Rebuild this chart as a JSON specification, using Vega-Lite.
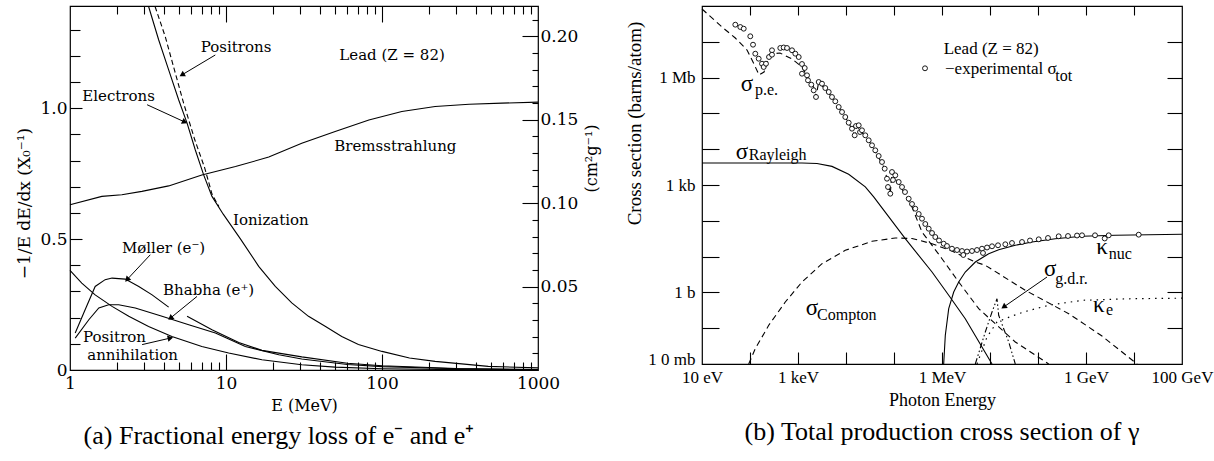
{
  "$schema": "https://vega.github.io/schema/vega-lite/v6.json",
  "padding": {"left": 15, "top": 3, "right": 5, "bottom": 5},
  "background": "white",
  "config": {
    "view": {"stroke": "black", "strokeWidth": 1.2},
    "axis": {"grid": false, "domain": false, "tickColor": "black", "tickWidth": 1.1, "labelColor": "black", "titleColor": "black", "titleFontWeight": "normal", "labelFlush": false, "labelOverlap": false},
    "font": "Liberation Serif"
  },
  "datasets": {
    "left_curves": [
      {"curve": "Bremsstrahlung", "seg": "b", "E": 1, "v": 0.631},
      {"curve": "Bremsstrahlung", "seg": "b", "E": 1.6, "v": 0.663},
      {"curve": "Bremsstrahlung", "seg": "b", "E": 2.15, "v": 0.669},
      {"curve": "Bremsstrahlung", "seg": "b", "E": 2.89, "v": 0.682},
      {"curve": "Bremsstrahlung", "seg": "b", "E": 4.29, "v": 0.703},
      {"curve": "Bremsstrahlung", "seg": "b", "E": 7.0, "v": 0.745},
      {"curve": "Bremsstrahlung", "seg": "b", "E": 11.5, "v": 0.777},
      {"curve": "Bremsstrahlung", "seg": "b", "E": 18.8, "v": 0.813},
      {"curve": "Bremsstrahlung", "seg": "b", "E": 30.6, "v": 0.866},
      {"curve": "Bremsstrahlung", "seg": "b", "E": 50.1, "v": 0.911},
      {"curve": "Bremsstrahlung", "seg": "b", "E": 82.4, "v": 0.955},
      {"curve": "Bremsstrahlung", "seg": "b", "E": 134, "v": 0.987},
      {"curve": "Bremsstrahlung", "seg": "b", "E": 219, "v": 1.006},
      {"curve": "Bremsstrahlung", "seg": "b", "E": 362, "v": 1.015},
      {"curve": "Bremsstrahlung", "seg": "b", "E": 588, "v": 1.019},
      {"curve": "Bremsstrahlung", "seg": "b", "E": 1000, "v": 1.023},
      {"curve": "Electrons", "seg": "el", "E": 3.19, "v": 1.388},
      {"curve": "Electrons", "seg": "el", "E": 3.7, "v": 1.261},
      {"curve": "Electrons", "seg": "el", "E": 4.29, "v": 1.146},
      {"curve": "Electrons", "seg": "el", "E": 4.97, "v": 1.032},
      {"curve": "Electrons", "seg": "el", "E": 5.63, "v": 0.943},
      {"curve": "Electrons", "seg": "el", "E": 6.35, "v": 0.841},
      {"curve": "Electrons", "seg": "el", "E": 7.19, "v": 0.745},
      {"curve": "Electrons", "seg": "el", "E": 8.13, "v": 0.663},
      {"curve": "Electrons", "seg": "el", "E": 9.6, "v": 0.595},
      {"curve": "Electrons", "seg": "el", "E": 12.4, "v": 0.5},
      {"curve": "Electrons", "seg": "el", "E": 16.2, "v": 0.396},
      {"curve": "Electrons", "seg": "el", "E": 20.7, "v": 0.319},
      {"curve": "Electrons", "seg": "el", "E": 26.4, "v": 0.256},
      {"curve": "Electrons", "seg": "el", "E": 33.8, "v": 0.205},
      {"curve": "Electrons", "seg": "el", "E": 43.2, "v": 0.167},
      {"curve": "Electrons", "seg": "el", "E": 55.2, "v": 0.128},
      {"curve": "Electrons", "seg": "el", "E": 70.6, "v": 0.097},
      {"curve": "Electrons", "seg": "el", "E": 100, "v": 0.071},
      {"curve": "Electrons", "seg": "el", "E": 150, "v": 0.046},
      {"curve": "Electrons", "seg": "el", "E": 219, "v": 0.033},
      {"curve": "Electrons", "seg": "el", "E": 480, "v": 0.014},
      {"curve": "Electrons", "seg": "el", "E": 1000, "v": 0.008},
      {"curve": "Positrons", "seg": "po", "E": 3.51, "v": 1.388},
      {"curve": "Positrons", "seg": "po", "E": 4.08, "v": 1.273},
      {"curve": "Positrons", "seg": "po", "E": 4.7, "v": 1.14},
      {"curve": "Positrons", "seg": "po", "E": 5.35, "v": 1.019},
      {"curve": "Positrons", "seg": "po", "E": 6.3, "v": 0.88},
      {"curve": "Positrons", "seg": "po", "E": 7.3, "v": 0.772},
      {"curve": "Positrons", "seg": "po", "E": 8.13, "v": 0.672},
      {"curve": "Positrons", "seg": "po", "E": 9.0, "v": 0.624},
      {"curve": "Møller", "seg": "m1", "E": 1.08, "v": 0.141},
      {"curve": "Møller", "seg": "m1", "E": 1.25, "v": 0.23},
      {"curve": "Møller", "seg": "m1", "E": 1.45, "v": 0.319},
      {"curve": "Møller", "seg": "m1", "E": 1.68, "v": 0.345},
      {"curve": "Møller", "seg": "m1", "E": 1.86, "v": 0.351},
      {"curve": "Møller", "seg": "m1", "E": 2.26, "v": 0.347},
      {"curve": "Møller", "seg": "m1", "E": 2.76, "v": 0.319},
      {"curve": "Møller", "seg": "m1", "E": 3.36, "v": 0.287},
      {"curve": "Møller", "seg": "m1", "E": 4.29, "v": 0.24},
      {"curve": "Møller", "seg": "m2", "E": 5.63, "v": 0.205},
      {"curve": "Møller", "seg": "m2", "E": 8.13, "v": 0.154},
      {"curve": "Møller", "seg": "m2", "E": 12.07, "v": 0.105},
      {"curve": "Møller", "seg": "m2", "E": 17, "v": 0.075},
      {"curve": "Møller", "seg": "m2", "E": 30.6, "v": 0.05},
      {"curve": "Møller", "seg": "m2", "E": 60, "v": 0.026},
      {"curve": "Møller", "seg": "m2", "E": 100, "v": 0.016},
      {"curve": "Møller", "seg": "m2", "E": 300, "v": 0.0055},
      {"curve": "Møller", "seg": "m2", "E": 1000, "v": 0.0017},
      {"curve": "Bhabha", "seg": "bh", "E": 1.08, "v": 0.122},
      {"curve": "Bhabha", "seg": "bh", "E": 1.32, "v": 0.192},
      {"curve": "Bhabha", "seg": "bh", "E": 1.53, "v": 0.237},
      {"curve": "Bhabha", "seg": "bh", "E": 1.77, "v": 0.249},
      {"curve": "Bhabha", "seg": "bh", "E": 2.05, "v": 0.249},
      {"curve": "Bhabha", "seg": "bh", "E": 2.62, "v": 0.237},
      {"curve": "Bhabha", "seg": "bh", "E": 3.89, "v": 0.205},
      {"curve": "Bhabha", "seg": "bh", "E": 5.77, "v": 0.173},
      {"curve": "Bhabha", "seg": "bh", "E": 8.55, "v": 0.141},
      {"curve": "Bhabha", "seg": "bh", "E": 13.3, "v": 0.09},
      {"curve": "Bhabha", "seg": "bh", "E": 21.8, "v": 0.058},
      {"curve": "Bhabha", "seg": "bh", "E": 30.6, "v": 0.042},
      {"curve": "Bhabha", "seg": "bh", "E": 60, "v": 0.021},
      {"curve": "Bhabha", "seg": "bh", "E": 100, "v": 0.013},
      {"curve": "Bhabha", "seg": "bh", "E": 300, "v": 0.0045},
      {"curve": "Bhabha", "seg": "bh", "E": 1000, "v": 0.0013},
      {"curve": "Positron annihilation", "seg": "an", "E": 1, "v": 0.38},
      {"curve": "Positron annihilation", "seg": "an", "E": 1.19, "v": 0.332},
      {"curve": "Positron annihilation", "seg": "an", "E": 1.45, "v": 0.287},
      {"curve": "Positron annihilation", "seg": "an", "E": 1.86, "v": 0.243},
      {"curve": "Positron annihilation", "seg": "an", "E": 2.38, "v": 0.205},
      {"curve": "Positron annihilation", "seg": "an", "E": 3.19, "v": 0.166},
      {"curve": "Positron annihilation", "seg": "an", "E": 4.5, "v": 0.128},
      {"curve": "Positron annihilation", "seg": "an", "E": 7, "v": 0.09},
      {"curve": "Positron annihilation", "seg": "an", "E": 10.4, "v": 0.065},
      {"curve": "Positron annihilation", "seg": "an", "E": 17, "v": 0.039},
      {"curve": "Positron annihilation", "seg": "an", "E": 30.6, "v": 0.02},
      {"curve": "Positron annihilation", "seg": "an", "E": 50, "v": 0.011},
      {"curve": "Positron annihilation", "seg": "an", "E": 100, "v": 0.005},
      {"curve": "Positron annihilation", "seg": "an", "E": 300, "v": 0.0015},
      {"curve": "Positron annihilation", "seg": "an", "E": 1000, "v": 0.0005}
    ],
    "left_text": [
      {"E": 11.6, "v": 1.233, "t": "Positrons"},
      {"E": 2.05, "v": 1.045, "t": "Electrons"},
      {"E": 116, "v": 1.203, "t": "Lead  (Z = 82)"},
      {"E": 121.7, "v": 0.854, "t": "Bremsstrahlung"},
      {"E": 19.4, "v": 0.571, "t": "Ionization"},
      {"E": 3.98, "v": 0.466, "t": "Møller (e⁻)"},
      {"E": 7.74, "v": 0.307, "t": "Bhabha (e⁺)"},
      {"E": 1.93, "v": 0.126, "t": "Positron"},
      {"E": 2.52, "v": 0.058, "t": "annihilation"}
    ],
    "left_arrows": [
      {"E": 8.54, "v": 1.203, "E2": 5.22, "v2": 1.127, "ang": 239},
      {"E": 3.12, "v": 1.013, "E2": 5.44, "v2": 0.947, "ang": 115},
      {"E": 3.27, "v": 0.44, "E2": 2.32, "v2": 0.345, "ang": 223},
      {"E": 6.52, "v": 0.281, "E2": 4.4, "v2": 0.198, "ang": 231},
      {"E": 2.9, "v": 0.097, "E2": 4.4, "v2": 0.122, "ang": 77}
    ],
    "anchor_left": [{"E": 10, "v": 0.1}],
    "right_curves": [
      {"curve": "Rayleigh", "logE": 1, "logS": 3.615},
      {"curve": "Rayleigh", "logE": 3.083, "logS": 3.615},
      {"curve": "Rayleigh", "logE": 3.396, "logS": 3.601},
      {"curve": "Rayleigh", "logE": 3.708, "logS": 3.52},
      {"curve": "Rayleigh", "logE": 4.056, "logS": 3.3},
      {"curve": "Rayleigh", "logE": 4.402, "logS": 2.95},
      {"curve": "Rayleigh", "logE": 4.577, "logS": 2.67},
      {"curve": "Rayleigh", "logE": 4.75, "logS": 2.36},
      {"curve": "Rayleigh", "logE": 5.235, "logS": 1.5},
      {"curve": "Rayleigh", "logE": 5.792, "logS": 0.57},
      {"curve": "Rayleigh", "logE": 6.14, "logS": -0.081},
      {"curve": "Rayleigh", "logE": 6.485, "logS": -0.735},
      {"curve": "Rayleigh", "logE": 7.042, "logS": -2},
      {"curve": "κ_nuc", "logE": 6.035, "logS": -2},
      {"curve": "κ_nuc", "logE": 6.069, "logS": -1.198},
      {"curve": "κ_nuc", "logE": 6.14, "logS": -0.455},
      {"curve": "κ_nuc", "logE": 6.244, "logS": 0.011},
      {"curve": "κ_nuc", "logE": 6.348, "logS": 0.291},
      {"curve": "κ_nuc", "logE": 6.485, "logS": 0.57},
      {"curve": "κ_nuc", "logE": 6.694, "logS": 0.849},
      {"curve": "κ_nuc", "logE": 6.973, "logS": 1.081},
      {"curve": "κ_nuc", "logE": 7.181, "logS": 1.193},
      {"curve": "κ_nuc", "logE": 7.527, "logS": 1.316},
      {"curve": "κ_nuc", "logE": 7.875, "logS": 1.408},
      {"curve": "κ_nuc", "logE": 8.36, "logS": 1.5},
      {"curve": "κ_nuc", "logE": 8.917, "logS": 1.567},
      {"curve": "κ_nuc", "logE": 9.61, "logS": 1.595},
      {"curve": "κ_nuc", "logE": 11, "logS": 1.623},
      {"curve": "p.e.", "logE": 1, "logS": 7.916},
      {"curve": "p.e.", "logE": 1.417, "logS": 7.413},
      {"curve": "p.e.", "logE": 1.694, "logS": 7.106},
      {"curve": "p.e.", "logE": 1.938, "logS": 6.771},
      {"curve": "p.e.", "logE": 2.083, "logS": 6.38},
      {"curve": "p.e.", "logE": 2.188, "logS": 6.073},
      {"curve": "p.e.", "logE": 2.292, "logS": 6.156},
      {"curve": "p.e.", "logE": 2.417, "logS": 6.659},
      {"curve": "p.e.", "logE": 2.625, "logS": 6.687},
      {"curve": "p.e.", "logE": 2.875, "logS": 6.52},
      {"curve": "p.e.", "logE": 3.083, "logS": 6.296},
      {"curve": "p.e.", "logE": 3.333, "logS": 5.709},
      {"curve": "p.e.", "logE": 3.375, "logS": 5.458},
      {"curve": "p.e.", "logE": 3.431, "logS": 5.877},
      {"curve": "p.e.", "logE": 3.708, "logS": 5.458},
      {"curve": "p.e.", "logE": 4.056, "logS": 4.74},
      {"curve": "p.e.", "logE": 4.181, "logS": 4.388},
      {"curve": "p.e.", "logE": 4.229, "logS": 4.648},
      {"curve": "p.e.", "logE": 4.542, "logS": 4.109},
      {"curve": "p.e.", "logE": 4.806, "logS": 3.455},
      {"curve": "p.e.", "logE": 4.923, "logS": 2.757},
      {"curve": "p.e.", "logE": 4.958, "logS": 3.363},
      {"curve": "p.e.", "logE": 5.167, "logS": 2.888},
      {"curve": "p.e.", "logE": 5.375, "logS": 2.385},
      {"curve": "p.e.", "logE": 5.583, "logS": 1.687},
      {"curve": "p.e.", "logE": 6.0, "logS": 0.941},
      {"curve": "p.e.", "logE": 6.348, "logS": 0.291},
      {"curve": "p.e.", "logE": 6.765, "logS": -0.455},
      {"curve": "p.e.", "logE": 7.527, "logS": -1.385},
      {"curve": "p.e.", "logE": 8.223, "logS": -2},
      {"curve": "Compton", "logE": 1.973, "logS": -2},
      {"curve": "Compton", "logE": 2.11, "logS": -1.573},
      {"curve": "Compton", "logE": 2.39, "logS": -0.919},
      {"curve": "Compton", "logE": 2.735, "logS": -0.268},
      {"curve": "Compton", "logE": 3.083, "logS": 0.291},
      {"curve": "Compton", "logE": 3.5, "logS": 0.802},
      {"curve": "Compton", "logE": 3.985, "logS": 1.176},
      {"curve": "Compton", "logE": 4.542, "logS": 1.427},
      {"curve": "Compton", "logE": 5.027, "logS": 1.52},
      {"curve": "Compton", "logE": 5.375, "logS": 1.506},
      {"curve": "Compton", "logE": 5.792, "logS": 1.36},
      {"curve": "Compton", "logE": 6.208, "logS": 1.156},
      {"curve": "Compton", "logE": 6.694, "logS": 0.849},
      {"curve": "Compton", "logE": 6.902, "logS": 0.757},
      {"curve": "Compton", "logE": 7.735, "logS": 0.059},
      {"curve": "Compton", "logE": 8.64, "logS": -0.595},
      {"curve": "Compton", "logE": 9.333, "logS": -1.218},
      {"curve": "Compton", "logE": 10.063, "logS": -2},
      {"curve": "κ_e", "logE": 6.729, "logS": -2},
      {"curve": "κ_e", "logE": 6.938, "logS": -1.246},
      {"curve": "κ_e", "logE": 7.146, "logS": -0.827},
      {"curve": "κ_e", "logE": 7.458, "logS": -0.659},
      {"curve": "κ_e", "logE": 7.735, "logS": -0.534},
      {"curve": "κ_e", "logE": 8.223, "logS": -0.36},
      {"curve": "κ_e", "logE": 8.917, "logS": -0.221},
      {"curve": "κ_e", "logE": 9.958, "logS": -0.176},
      {"curve": "κ_e", "logE": 11, "logS": -0.162},
      {"curve": "g.d.r.", "logE": 6.694, "logS": -2},
      {"curve": "g.d.r.", "logE": 6.902, "logS": -1.106},
      {"curve": "g.d.r.", "logE": 7.042, "logS": -0.547},
      {"curve": "g.d.r.", "logE": 7.146, "logS": -0.176},
      {"curve": "g.d.r.", "logE": 7.181, "logS": -0.64},
      {"curve": "g.d.r.", "logE": 7.285, "logS": -1.014},
      {"curve": "g.d.r.", "logE": 7.39, "logS": -1.385},
      {"curve": "g.d.r.", "logE": 7.527, "logS": -2}
    ],
    "right_points": [
      {"logE": 1.694, "logS": 7.478}, {"logE": 1.798, "logS": 7.413}, {"logE": 1.869, "logS": 7.366},
      {"logE": 2.006, "logS": 7.154}, {"logE": 2.063, "logS": 6.919}, {"logE": 2.11, "logS": 6.668},
      {"logE": 2.181, "logS": 6.528}, {"logE": 2.25, "logS": 6.388}, {"logE": 2.285, "logS": 6.296},
      {"logE": 2.333, "logS": 6.388}, {"logE": 2.396, "logS": 6.575}, {"logE": 2.458, "logS": 6.763},
      {"logE": 2.458, "logS": 6.64}, {"logE": 2.631, "logS": 6.827}, {"logE": 2.702, "logS": 6.841},
      {"logE": 2.771, "logS": 6.827}, {"logE": 2.875, "logS": 6.763}, {"logE": 2.944, "logS": 6.668},
      {"logE": 3.015, "logS": 6.575}, {"logE": 3.083, "logS": 6.38}, {"logE": 3.14, "logS": 6.268},
      {"logE": 3.083, "logS": 6.109}, {"logE": 3.188, "logS": 6.064}, {"logE": 3.208, "logS": 5.925},
      {"logE": 3.277, "logS": 5.802}, {"logE": 3.327, "logS": 5.645}, {"logE": 3.375, "logS": 5.458},
      {"logE": 3.431, "logS": 5.877}, {"logE": 3.5, "logS": 5.83}, {"logE": 3.569, "logS": 5.709},
      {"logE": 3.64, "logS": 5.598}, {"logE": 3.708, "logS": 5.458}, {"logE": 3.777, "logS": 5.338},
      {"logE": 3.848, "logS": 5.179}, {"logE": 3.917, "logS": 5.039}, {"logE": 3.985, "logS": 4.899},
      {"logE": 4.056, "logS": 4.74}, {"logE": 4.125, "logS": 4.573}, {"logE": 4.181, "logS": 4.388},
      {"logE": 4.208, "logS": 4.648}, {"logE": 4.265, "logS": 4.668}, {"logE": 4.292, "logS": 4.48},
      {"logE": 4.333, "logS": 4.528}, {"logE": 4.402, "logS": 4.388}, {"logE": 4.473, "logS": 4.249},
      {"logE": 4.542, "logS": 4.109}, {"logE": 4.61, "logS": 3.969}, {"logE": 4.681, "logS": 3.81},
      {"logE": 4.75, "logS": 3.642}, {"logE": 4.806, "logS": 3.455}, {"logE": 4.854, "logS": 3.176},
      {"logE": 4.923, "logS": 2.757}, {"logE": 4.875, "logS": 2.944}, {"logE": 4.958, "logS": 3.363},
      {"logE": 4.979, "logS": 3.14}, {"logE": 5.027, "logS": 3.271}, {"logE": 5.098, "logS": 3.084},
      {"logE": 5.167, "logS": 2.944}, {"logE": 5.229, "logS": 2.804}, {"logE": 5.306, "logS": 2.617},
      {"logE": 5.375, "logS": 2.469}, {"logE": 5.444, "logS": 2.338}, {"logE": 5.515, "logS": 2.19},
      {"logE": 5.583, "logS": 2.059}, {"logE": 5.652, "logS": 1.911}, {"logE": 5.723, "logS": 1.779},
      {"logE": 5.792, "logS": 1.659}, {"logE": 5.86, "logS": 1.547}, {"logE": 5.938, "logS": 1.45},
      {"logE": 6.035, "logS": 1.36}, {"logE": 6.104, "logS": 1.296}, {"logE": 6.208, "logS": 1.221},
      {"logE": 6.313, "logS": 1.184}, {"logE": 6.417, "logS": 1.156}, {"logE": 6.521, "logS": 1.142},
      {"logE": 6.625, "logS": 1.156}, {"logE": 6.729, "logS": 1.184}, {"logE": 6.833, "logS": 1.221},
      {"logE": 6.938, "logS": 1.254}, {"logE": 7.042, "logS": 1.288}, {"logE": 7.167, "logS": 1.316},
      {"logE": 7.319, "logS": 1.344}, {"logE": 7.458, "logS": 1.38}, {"logE": 7.667, "logS": 1.408},
      {"logE": 7.833, "logS": 1.45}, {"logE": 8.015, "logS": 1.483}, {"logE": 8.208, "logS": 1.52},
      {"logE": 8.431, "logS": 1.567}, {"logE": 8.625, "logS": 1.575}, {"logE": 8.813, "logS": 1.589},
      {"logE": 8.917, "logS": 1.595}, {"logE": 9.188, "logS": 1.595}, {"logE": 9.39, "logS": 1.506},
      {"logE": 9.473, "logS": 1.595}, {"logE": 10.098, "logS": 1.612}, {"logE": 6.444, "logS": 1.045},
      {"logE": 6.854, "logS": 1.101}
    ],
    "right_legend": [{"logE": 5.646, "logS": 6.26}],
    "right_symbols": [
      {"logE": 1.938, "logS": 5.83, "t": "σ"},
      {"logE": 1.833, "logS": 3.922, "t": "σ"},
      {"logE": 3.292, "logS": -0.436, "t": "σ"},
      {"logE": 9.333, "logS": 1.268, "t": "κ"},
      {"logE": 8.256, "logS": 0.662, "t": "σ"},
      {"logE": 9.265, "logS": -0.36, "t": "κ"}
    ],
    "right_subs": [
      {"logE": 2.104, "logS": 5.645, "t": "p.e."},
      {"logE": 1.973, "logS": 3.83, "t": "Rayleigh"},
      {"logE": 3.396, "logS": -0.64, "t": "Compton"},
      {"logE": 9.473, "logS": 1.081, "t": "nuc"},
      {"logE": 8.36, "logS": 0.383, "t": "g.d.r."},
      {"logE": 9.417, "logS": -0.5, "t": "e"},
      {"logE": 8.36, "logS": 6.05, "t": "tot"}
    ],
    "right_text": [
      {"logE": 6.035, "logS": 6.8, "t": "Lead (Z = 82)"},
      {"logE": 6.0625, "logS": 6.23, "t": "−experimental σ"}
    ],
    "right_arrows": [
      {"logE": 8.1875, "logS": 0.43, "logE2": 7.285, "logS2": -0.408, "ang": 235}
    ]
  },
  "hconcat": [
    {
      "width": 468,
      "height": 364,
      "title": {"text": "(a)  Fractional energy loss of e⁻ and e⁺", "orient": "bottom", "font": "Liberation Serif", "fontSize": 26, "fontWeight": "normal", "color": "black", "offset": 10, "dx": -25},
      "resolve": {"scale": {"y": "independent"}, "axis": {"x": "independent", "y": "independent"}},
      "layer": [
        {
          "data": {"name": "left_curves"},
          "transform": [{"filter": "datum.curve != 'Positrons'"}],
          "mark": {"type": "line", "color": "black", "strokeWidth": 1.1},
          "encoding": {
            "x": {"field": "E", "type": "quantitative", "scale": {"type": "log", "domain": [1, 1000]},
              "axis": {"orient": "bottom", "values": [1, 10, 100, 1000], "format": "d", "ticks": false, "tickSize": 0, "labelFont": "DejaVu Serif", "labelFontSize": 17, "labelPadding": 5, "title": "E  (MeV)", "titleFont": "DejaVu Serif", "titleFontSize": 16, "titlePadding": 6}},
            "y": {"field": "v", "type": "quantitative", "scale": {"domain": [0, 1.39]},
              "axis": {"orient": "left", "values": [0, 0.5, 1], "labelExpr": "datum.value == 0 ? '0' : format(datum.value, '.1f')", "ticks": false, "tickSize": 0, "labelFont": "DejaVu Serif", "labelFontSize": 17, "labelPadding": 3, "title": "−1/E dE/dx  (X₀⁻¹)", "titleFont": "DejaVu Serif", "titleFontSize": 17, "titlePadding": 6, "titleY": 197}},
            "detail": {"field": "seg"}
          }
        },
        {
          "data": {"name": "left_curves"},
          "transform": [{"filter": "datum.curve == 'Positrons'"}],
          "mark": {"type": "line", "color": "black", "strokeWidth": 1.1, "strokeDash": [5, 3]},
          "encoding": {
            "x": {"field": "E", "type": "quantitative", "scale": {"type": "log", "domain": [1, 1000]}, "axis": null},
            "y": {"field": "v", "type": "quantitative", "scale": {"domain": [0, 1.39]}, "axis": null},
            "detail": {"field": "seg"}
          }
        },
        {
          "data": {"name": "anchor_left"},
          "mark": {"type": "point", "opacity": 0},
          "encoding": {
            "x": {"field": "E", "type": "quantitative", "scale": {"type": "log", "domain": [1, 1000]},
              "axis": {"orient": "bottom", "values": [2, 3, 4, 5, 6, 7, 8, 9, 20, 30, 40, 50, 60, 70, 80, 90, 200, 300, 400, 500, 600, 700, 800, 900], "labels": false, "tickSize": -8, "title": null}},
            "y": {"field": "v", "type": "quantitative", "scale": {"domain": [0, 1.39]},
              "axis": {"orient": "left", "values": [0.1, 0.2, 0.3, 0.4, 0.6, 0.7, 0.8, 0.9, 1.1, 1.2, 1.3], "labels": false, "tickSize": -10, "title": null}}
          }
        },
        {
          "data": {"name": "anchor_left"},
          "mark": {"type": "point", "opacity": 0},
          "encoding": {
            "x": {"field": "E", "type": "quantitative", "scale": {"type": "log", "domain": [1, 1000]},
              "axis": {"orient": "bottom", "values": [10, 100], "labels": false, "tickSize": -16, "title": null}},
            "y": {"field": "v", "type": "quantitative", "scale": {"domain": [0, 1.39]},
              "axis": {"orient": "left", "values": [0.5, 1.0], "labels": false, "tickSize": -12, "title": null}}
          }
        },
        {
          "data": {"name": "anchor_left"},
          "mark": {"type": "point", "opacity": 0},
          "encoding": {
            "x": {"field": "E", "type": "quantitative", "scale": {"type": "log", "domain": [1, 1000]},
              "axis": {"orient": "top", "values": [2, 3, 4, 5, 6, 7, 8, 9, 20, 30, 40, 50, 60, 70, 80, 90, 200, 300, 400, 500, 600, 700, 800, 900], "labels": false, "tickSize": -8, "title": null}},
            "y": {"field": "v", "type": "quantitative", "scale": {"domain": [0, 0.2182]},
              "axis": {"orient": "right", "values": [0.05, 0.1, 0.15, 0.2], "format": ".2f", "ticks": false, "tickSize": 0, "labelFont": "DejaVu Serif", "labelFontSize": 17, "labelPadding": 2, "title": "(cm²g⁻¹)", "titleFont": "DejaVu Serif", "titleFontSize": 16, "titleAngle": 270, "titleBaseline": "top", "titlePadding": 6, "titleY": 152}}
          }
        },
        {
          "data": {"name": "anchor_left"},
          "mark": {"type": "point", "opacity": 0},
          "encoding": {
            "x": {"field": "E", "type": "quantitative", "scale": {"type": "log", "domain": [1, 1000]},
              "axis": {"orient": "top", "values": [10, 100], "labels": false, "tickSize": -16, "title": null}},
            "y": {"field": "v", "type": "quantitative", "scale": {"domain": [0, 0.2182]},
              "axis": {"orient": "right", "values": [0.01, 0.02, 0.03, 0.04, 0.06, 0.07, 0.08, 0.09, 0.11, 0.12, 0.13, 0.14, 0.16, 0.17, 0.18, 0.19, 0.21], "labels": false, "tickSize": -6, "title": null}}
          }
        },
        {
          "data": {"name": "anchor_left"},
          "mark": {"type": "point", "opacity": 0},
          "encoding": {
            "x": {"field": "E", "type": "quantitative", "scale": {"type": "log", "domain": [1, 1000]}, "axis": null},
            "y": {"field": "v", "type": "quantitative", "scale": {"domain": [0, 0.2182]},
              "axis": {"orient": "right", "values": [0.05, 0.1, 0.15, 0.2], "labels": false, "tickSize": -16, "title": null}}
          }
        },
        {
          "data": {"name": "left_text"},
          "mark": {"type": "text", "font": "DejaVu Serif", "fontSize": 15, "align": "center", "baseline": "middle", "color": "black"},
          "encoding": {
            "x": {"field": "E", "type": "quantitative", "scale": {"type": "log", "domain": [1, 1000]}, "axis": null},
            "y": {"field": "v", "type": "quantitative", "scale": {"domain": [0, 1.39]}, "axis": null},
            "text": {"field": "t"}
          }
        },
        {
          "data": {"name": "left_arrows"},
          "mark": {"type": "rule", "color": "black", "strokeWidth": 1},
          "encoding": {
            "x": {"field": "E", "type": "quantitative", "scale": {"type": "log", "domain": [1, 1000]}, "axis": null},
            "y": {"field": "v", "type": "quantitative", "scale": {"domain": [0, 1.39]}, "axis": null},
            "x2": {"field": "E2"},
            "y2": {"field": "v2"}
          }
        },
        {
          "data": {"name": "left_arrows"},
          "mark": {"type": "point", "shape": "triangle-up", "filled": true, "color": "black", "opacity": 1, "size": 40},
          "encoding": {
            "x": {"field": "E2", "type": "quantitative", "scale": {"type": "log", "domain": [1, 1000]}, "axis": null},
            "y": {"field": "v2", "type": "quantitative", "scale": {"domain": [0, 1.39]}, "axis": null},
            "angle": {"field": "ang", "type": "quantitative", "scale": null}
          }
        }
      ]
    },
    {
      "width": 480,
      "height": 358,
      "title": {"text": "(b)  Total production cross section of γ", "orient": "bottom", "font": "Liberation Serif", "fontSize": 26, "fontWeight": "normal", "color": "black", "offset": 10},
      "resolve": {"axis": {"x": "independent", "y": "independent"}},
      "layer": [
        {
          "data": {"name": "right_curves"},
          "transform": [{"filter": {"field": "curve", "oneOf": ["Rayleigh", "κ_nuc"]}}],
          "mark": {"type": "line", "color": "black", "strokeWidth": 1.1},
          "encoding": {
            "x": {"field": "logE", "type": "quantitative", "scale": {"domain": [1, 11]},
              "axis": {"orient": "bottom", "values": [1, 3, 6, 9, 11], "labelExpr": "datum.value == 1 ? '10 eV' : datum.value == 3 ? '1 keV' : datum.value == 6 ? '1 MeV' : datum.value == 9 ? '1 GeV' : '100 GeV'", "ticks": false, "tickSize": 0, "labelFont": "Liberation Serif", "labelFontSize": 17, "labelPadding": 5, "title": "Photon Energy", "titleFont": "Liberation Serif", "titleFontSize": 18, "titlePadding": 6}},
            "y": {"field": "logS", "type": "quantitative", "scale": {"domain": [-2, 8]},
              "axis": {"orient": "left", "values": [-2, 0, 3, 6], "labelExpr": "datum.value == 6 ? '1 Mb' : datum.value == 3 ? '1 kb' : datum.value == 0 ? '1 b' : '1 0 mb'", "labelBaseline": {"condition": {"test": "datum.value == -2", "value": "alphabetic"}, "value": "middle"}, "ticks": false, "tickSize": 0, "labelFont": "Liberation Serif", "labelFontSize": 17, "labelPadding": 7, "title": "Cross section  (barns/atom)", "titleFont": "Liberation Serif", "titleFontSize": 19, "titlePadding": 3, "titleY": 117}},
            "detail": {"field": "curve"}
          }
        },
        {
          "data": {"name": "right_curves"},
          "transform": [{"filter": {"field": "curve", "oneOf": ["p.e.", "Compton"]}}],
          "mark": {"type": "line", "color": "black", "strokeWidth": 1.1, "strokeDash": [6, 4]},
          "encoding": {
            "x": {"field": "logE", "type": "quantitative", "scale": {"domain": [1, 11]}, "axis": null},
            "y": {"field": "logS", "type": "quantitative", "scale": {"domain": [-2, 8]}, "axis": null},
            "detail": {"field": "curve"}
          }
        },
        {
          "data": {"name": "right_curves"},
          "transform": [{"filter": {"field": "curve", "equal": "κ_e"}}],
          "mark": {"type": "line", "color": "black", "strokeWidth": 1.2, "strokeDash": [1.5, 5]},
          "encoding": {
            "x": {"field": "logE", "type": "quantitative", "scale": {"domain": [1, 11]}, "axis": null},
            "y": {"field": "logS", "type": "quantitative", "scale": {"domain": [-2, 8]}, "axis": null}
          }
        },
        {
          "data": {"name": "right_curves"},
          "transform": [{"filter": {"field": "curve", "equal": "g.d.r."}}],
          "mark": {"type": "line", "color": "black", "strokeWidth": 1.1, "strokeDash": [6, 2.5, 1.5, 2.5, 1.5, 2.5]},
          "encoding": {
            "x": {"field": "logE", "type": "quantitative", "scale": {"domain": [1, 11]}, "axis": null},
            "y": {"field": "logS", "type": "quantitative", "scale": {"domain": [-2, 8]}, "axis": null}
          }
        },
        {
          "data": {"name": "right_points"},
          "mark": {"type": "point", "shape": "circle", "filled": true, "fill": "white", "stroke": "black", "strokeWidth": 0.9, "opacity": 1, "size": 24},
          "encoding": {
            "x": {"field": "logE", "type": "quantitative", "scale": {"domain": [1, 11]},
              "axis": {"orient": "bottom", "values": [2, 3, 4, 5, 6, 7, 8, 9, 10], "labels": false, "tickSize": -12, "title": null}},
            "y": {"field": "logS", "type": "quantitative", "scale": {"domain": [-2, 8]},
              "axis": {"orient": "left", "values": [-1, 0, 1, 2, 3, 4, 5, 6, 7], "labels": false, "tickSize": -17, "title": null}}
          }
        },
        {
          "data": {"name": "right_legend"},
          "mark": {"type": "point", "shape": "circle", "filled": true, "fill": "white", "stroke": "black", "strokeWidth": 0.9, "opacity": 1, "size": 24},
          "encoding": {
            "x": {"field": "logE", "type": "quantitative", "scale": {"domain": [1, 11]},
              "axis": {"orient": "top", "values": [2, 3, 4, 5, 6, 7, 8, 9, 10], "labels": false, "tickSize": -9, "title": null}},
            "y": {"field": "logS", "type": "quantitative", "scale": {"domain": [-2, 8]},
              "axis": {"orient": "right", "values": [-1, 0, 1, 2, 3, 4, 5, 6, 7], "labels": false, "tickSize": -15, "title": null}}
          }
        },
        {
          "data": {"name": "right_symbols"},
          "mark": {"type": "text", "font": "Liberation Serif", "fontSize": 23, "align": "center", "baseline": "middle", "color": "black"},
          "encoding": {
            "x": {"field": "logE", "type": "quantitative", "scale": {"domain": [1, 11]}, "axis": null},
            "y": {"field": "logS", "type": "quantitative", "scale": {"domain": [-2, 8]}, "axis": null},
            "text": {"field": "t"}
          }
        },
        {
          "data": {"name": "right_subs"},
          "mark": {"type": "text", "font": "Liberation Serif", "fontSize": 16, "align": "left", "baseline": "middle", "color": "black"},
          "encoding": {
            "x": {"field": "logE", "type": "quantitative", "scale": {"domain": [1, 11]}, "axis": null},
            "y": {"field": "logS", "type": "quantitative", "scale": {"domain": [-2, 8]}, "axis": null},
            "text": {"field": "t"}
          }
        },
        {
          "data": {"name": "right_text"},
          "mark": {"type": "text", "font": "Liberation Serif", "fontSize": 17, "align": "left", "baseline": "middle", "color": "black"},
          "encoding": {
            "x": {"field": "logE", "type": "quantitative", "scale": {"domain": [1, 11]}, "axis": null},
            "y": {"field": "logS", "type": "quantitative", "scale": {"domain": [-2, 8]}, "axis": null},
            "text": {"field": "t"}
          }
        },
        {
          "data": {"name": "right_arrows"},
          "mark": {"type": "rule", "color": "black", "strokeWidth": 1},
          "encoding": {
            "x": {"field": "logE", "type": "quantitative", "scale": {"domain": [1, 11]}, "axis": null},
            "y": {"field": "logS", "type": "quantitative", "scale": {"domain": [-2, 8]}, "axis": null},
            "x2": {"field": "logE2"},
            "y2": {"field": "logS2"}
          }
        },
        {
          "data": {"name": "right_arrows"},
          "mark": {"type": "point", "shape": "triangle-up", "filled": true, "color": "black", "opacity": 1, "size": 40},
          "encoding": {
            "x": {"field": "logE2", "type": "quantitative", "scale": {"domain": [1, 11]}, "axis": null},
            "y": {"field": "logS2", "type": "quantitative", "scale": {"domain": [-2, 8]}, "axis": null},
            "angle": {"field": "ang", "type": "quantitative", "scale": null}
          }
        }
      ]
    }
  ],
  "spacing": 164,
  "bounds": "flush"
}
